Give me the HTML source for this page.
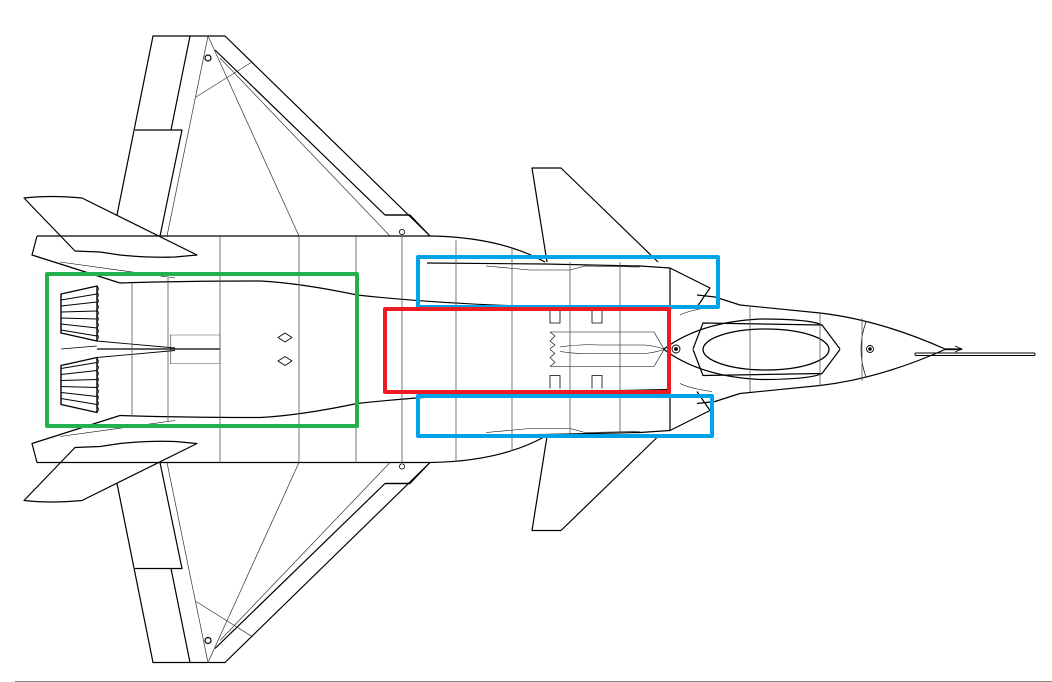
<!DOCTYPE html>
<html><head><meta charset="utf-8"><style>
html,body{margin:0;padding:0;background:#fff;width:1052px;height:682px;overflow:hidden}
svg{display:block}
</style></head><body>
<svg width="1052" height="682" viewBox="0 0 1052 682" xmlns="http://www.w3.org/2000/svg" fill="none" stroke="#000" stroke-width="1.2" stroke-linejoin="round">
<defs>
<g id="half">
  <!-- main wing -->
  <path d="M117,215 L153,36 L225,36 L430,236"/>
  <path d="M190,36 L171,130 M135,130 L182,130 L160,236"/>
  <path d="M215,50 L385,215 L410,215" />
  <path d="M385,215 L410,215 L430,236" />
  <g stroke-width="0.7" stroke="#333">
    <path d="M208,36 L167,236"/>
    <path d="M208,36 L299,236"/>
    <path d="M220,58 L390,236"/>
    <path d="M196,97 L252,62"/>
  </g>
  <circle cx="208" cy="58" r="3"/>
  <circle cx="402" cy="232" r="2.6" stroke-width="0.8"/>
  <!-- fuselage side -->
  <path d="M37,236 L430,236 Q500,237 545,262"/>
  <path d="M37,236 L32,255 L120,283"/>
  <path d="M60,262 L175,278" stroke-width="0.6"/>
  <!-- horizontal tail -->
  <path d="M24,198 Q50,195 82,198 L197,255 L175,257 Q150,258 120,255 L100,252 L75,251 Z"/>
  <!-- nacelle line -->
  <path d="M120,283 Q180,281 260,281 Q300,283 357,295 Q430,303 520,306 L670,309"/>
  <!-- nozzle -->
  <path d="M61,294 L97,286 L97,341 L61,333 Z" stroke-width="1.4"/>
  <path d="M61,300 L97,294 M61,306 L97,302 M61,312 L97,311 M61,318 L97,319 M61,324 L97,328 M61,330 L97,336" stroke-width="0.9"/>
  <path d="M97,286 q3,3 0,6 q3,3 0,6 q3,3 0,6 q3,3 0,6 q3,3 0,6 q3,3 0,6 q3,3 0,6 q3,3 0,6 q3,3 0,6" stroke-width="0.7"/>
  <path d="M97,341 L175,348" stroke-width="0.9"/>
  <!-- canard -->
  <path d="M547,262 L532,168 L561,168 L658,262"/>
  <!-- intake area -->
  <path d="M427,263 L545,264 L640,266 L670,268 L710,288 L697,307"/>
  <path d="M486,266 L530,270 L570,270 L585,266 L640,267" stroke-width="0.6"/>
  <path d="M670,268 L670,309" />
  <path d="M697,295 L715,297 L740,305 L820,313 Q880,320 945,349 L962,349"/>
  <path d="M680,315 Q690,310 712,307" stroke-width="0.6"/>
  <!-- canopy -->
  <path d="M664,349 Q700,322 760,319 Q810,319 822,325"/>
  <path d="M693,349 L703,323 L822,325 L840,349"/>
  <path d="M550,310 L550,323 L560,323 L560,310 M592,310 L592,323 L602,323 L602,310" stroke-width="0.8"/>
  <path d="M550,332 L654,332 L664,349" stroke-width="0.6"/>
  <path d="M550,332 l5,4 l-5,5 l5,4 l-5,4" stroke-width="0.6"/>
  <path d="M560,347 Q580,344 600,345 L645,345 Q655,346 664,349" stroke-width="0.6"/>
  <path d="M170,335 L220,335 L220,349" stroke-width="0.6" stroke="#555"/>
  <path d="M170,335 q2,2 0,4 q2,2 0,4 q2,2 0,4 q2,2 0,2" stroke-width="0.5"/>
  <path d="M285,333 L292,337.5 L285,342 L278,337.5 Z" stroke-width="0.8"/>
</g>
</defs>
<use href="#half"/>
<use href="#half" transform="matrix(1 0 0 -1 0 698.5)"/>
<!-- center items -->
<path d="M170,349 L220,349 M97,349 L180,349" stroke-width="1.3"/>
<path d="M61,349 L97,346" stroke-width="0.8"/>
<ellipse cx="766" cy="349.5" rx="63" ry="20.5" stroke-width="1.3"/>
<circle cx="676" cy="349" r="4" stroke-width="0.9"/><circle cx="676" cy="349" r="1.3" fill="#000"/>
<circle cx="870" cy="349" r="3.5" stroke-width="0.9"/><circle cx="870" cy="349" r="1.2" fill="#000"/>
<path d="M866,322 Q856,349 866,377" stroke-width="0.7"/>
<path d="M955,346 L962,349 L955,352" stroke-width="0.9"/>
<rect x="915" y="353" width="120" height="2.5" rx="1" stroke-width="1"/>
<!-- vertical frame lines -->
<g stroke-width="0.8" stroke="#555">
<path d="M132,283 L132,416 M168,278 L168,421 M220,236 L220,463 M299,236 L299,463 M356,236 L356,463 M402,236 L402,463 M456,240 L456,460 M512,248 L512,451 M570,262 L570,437 M620,262 L620,437 M750,307 L750,392 M820,313 L820,386 M862,318 L862,381"/>
</g>
<!-- colored boxes -->
<rect x="47" y="274" width="310" height="152" stroke="#22b14c" stroke-width="4"/>
<rect x="418" y="257" width="300" height="50" stroke="#00a2e8" stroke-width="4"/>
<rect x="385" y="309" width="284" height="83" stroke="#ed1c24" stroke-width="4"/>
<rect x="418" y="396" width="294" height="40" stroke="#00a2e8" stroke-width="4"/>
<line x1="15" y1="681.5" x2="1052" y2="681.5" stroke="#888" stroke-width="1"/>
</svg>
</body></html>
